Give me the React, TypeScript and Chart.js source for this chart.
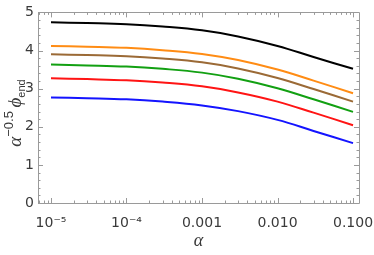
import React, { useEffect, useRef } from "react";
import { Chart, registerables } from "chart.js";

Chart.register(...registerables);

const alphaValues = [1e-5, 3e-5, 1e-4, 3e-4, 1e-3, 3e-3, 1e-2, 3e-2, 1e-1];
const seriesBlack = [4.74, 4.72, 4.69, 4.63, 4.53, 4.37, 4.12, 3.83, 3.52];
const seriesOrange = [4.12, 4.10, 4.07, 4.01, 3.91, 3.75, 3.50, 3.21, 2.88];
const seriesBrown = [3.90, 3.88, 3.85, 3.79, 3.69, 3.53, 3.28, 2.99, 2.66];
const seriesGreen = [3.63, 3.61, 3.58, 3.52, 3.42, 3.26, 3.01, 2.72, 2.39];
const seriesRed = [3.27, 3.25, 3.22, 3.16, 3.06, 2.90, 2.66, 2.37, 2.04];
const seriesBlue = [2.77, 2.75, 2.72, 2.66, 2.56, 2.41, 2.18, 1.89, 1.57];

const xTickValues = [1e-5, 1e-4, 1e-3, 1e-2, 1e-1];
const xTickLabels = ["10\u207B\u2075", "10\u207B\u2074", "0.001", "0.010", "0.100"];
const yTickValues = [0, 1, 2, 3, 4, 5];
const yTickLabels = ["0", "1", "2", "3", "4", "5"];

const X_MIN = 6.73e-6;
const X_MAX = 0.12;
const Y_MIN = 0;
const Y_MAX = 5;

const series = [
  { data: seriesBlack, color: "#000000" },
  { data: seriesOrange, color: "#FF8C14" },
  { data: seriesBrown, color: "#9B6A36" },
  { data: seriesGreen, color: "#12A012" },
  { data: seriesRed, color: "#FF1414" },
  { data: seriesBlue, color: "#1414FF" },
];

const frameColor = "#9a9a9a";
const labelColor = "#3a3a3a";

const framePlugin = {
  id: "framePlugin",
  afterDatasetsDraw(chart: any) {
    const { ctx, chartArea } = chart;
    const xs = chart.scales.x;
    const ys = chart.scales.y;
    const { left, right, top, bottom } = chartArea;
    ctx.save();
    ctx.strokeStyle = frameColor;
    ctx.lineWidth = 1;
    ctx.beginPath();
    ctx.rect(Math.round(left) + 0.5, Math.round(top) + 0.5, Math.round(right - left), Math.round(bottom - top));
    ctx.stroke();

    const xMaj: number[] = [];
    const xMin: number[] = [];
    for (let e = -6; e <= -1; e++) {
      for (let k = 1; k <= 9; k++) {
        const v = k * Math.pow(10, e);
        if (v < X_MIN || v > X_MAX) continue;
        if (k === 1) xMaj.push(v);
        else xMin.push(v);
      }
    }
    ctx.beginPath();
    const drawX = (v: number, len: number) => {
      const px = Math.round(xs.getPixelForValue(v)) + 0.5;
      ctx.moveTo(px, bottom);
      ctx.lineTo(px, bottom - len);
      ctx.moveTo(px, top);
      ctx.lineTo(px, top + len);
    };
    xMaj.forEach((v) => drawX(v, 5));
    xMin.forEach((v) => drawX(v, 2.5));
    const drawY = (v: number, len: number) => {
      const py = Math.round(ys.getPixelForValue(v)) + 0.5;
      ctx.moveTo(left, py);
      ctx.lineTo(left + len, py);
      ctx.moveTo(right, py);
      ctx.lineTo(right - len, py);
    };
    for (let i = 0; i <= 25; i++) {
      const v = i * 0.2;
      drawY(v, i % 5 === 0 ? 5 : 2.5);
    }
    ctx.stroke();
    ctx.restore();

    // y-axis title with superscript and subscript
    const parts = [
      { t: "\u03B1", f: "italic 19px 'Liberation Serif'", dy: 0 },
      { t: "\u22120.5", f: "13px 'Liberation Sans'", dy: -8 },
      { t: " ", f: "13px 'Liberation Sans'", dy: 0 },
      { t: "\u03D5", f: "italic 19px 'Liberation Serif'", dy: 0 },
      { t: "end", f: "11px 'Liberation Sans'", dy: 4 },
    ];
    ctx.save();
    let total = 0;
    const widths = parts.map((p) => {
      ctx.font = p.f;
      const w = ctx.measureText(p.t).width;
      total += w;
      return w;
    });
    ctx.translate(21, 113);
    ctx.rotate(-Math.PI / 2);
    ctx.fillStyle = labelColor;
    ctx.textBaseline = "alphabetic";
    ctx.textAlign = "left";
    let cx = -total / 2;
    parts.forEach((p, i) => {
      ctx.font = p.f;
      ctx.fillText(p.t, cx, p.dy);
      cx += widths[i];
    });
    ctx.restore();
  },
};

export default function App() {
  const canvasRef = useRef<HTMLCanvasElement | null>(null);

  useEffect(() => {
    const canvas = canvasRef.current;
    if (!canvas) return;
    const chart = new Chart(canvas, {
      type: "line",
      data: {
        datasets: series.map((s) => ({
          data: alphaValues.map((a, i) => ({ x: a, y: s.data[i] })),
          borderColor: s.color,
          backgroundColor: s.color,
          borderWidth: 2,
          pointRadius: 0,
          fill: false,
          tension: 0.4,
        })),
      },
      options: {
        animation: false,
        responsive: false,
        maintainAspectRatio: false,
        devicePixelRatio: 1,
        layout: { padding: { left: 0, right: 15, top: 9, bottom: 0 } },
        plugins: { legend: { display: false }, tooltip: { enabled: false } },
        scales: {
          x: {
            type: "logarithmic",
            min: X_MIN,
            max: X_MAX,
            grid: { display: false, drawTicks: false },
            border: { display: false },
            afterBuildTicks: (scale: any) => {
              scale.ticks = xTickValues.map((v) => ({ value: v }));
            },
            afterFit: (scale: any) => {
              scale.height = 52;
              scale.paddingLeft = 0;
              scale.paddingRight = 0;
            },
            ticks: {
              autoSkip: false,
              maxRotation: 0,
              minRotation: 0,
              padding: 12,
              color: labelColor,
              font: { family: "'DejaVu Sans'", size: 14 },
              callback: (value: any) => {
                const idx = xTickValues.findIndex((v) => Math.abs(v - Number(value)) / v < 1e-6);
                return idx >= 0 ? xTickLabels[idx] : "";
              },
            },
            title: {
              display: true,
              text: "\u03B1",
              color: labelColor,
              font: { family: "'Liberation Serif'", size: 18, style: "italic" },
              padding: { top: 0, bottom: 3 },
            },
          },
          y: {
            type: "linear",
            min: Y_MIN,
            max: Y_MAX,
            grid: { display: false, drawTicks: false },
            border: { display: false },
            afterBuildTicks: (scale: any) => {
              scale.ticks = yTickValues.map((v) => ({ value: v }));
            },
            afterFit: (scale: any) => {
              scale.width = 38;
            },
            ticks: {
              padding: 4,
              color: labelColor,
              font: { family: "'DejaVu Sans'", size: 14 },
              callback: (value: any) => {
                const idx = yTickValues.indexOf(Number(value));
                return idx >= 0 ? yTickLabels[idx] : "";
              },
            },
          },
        },
      },
      plugins: [framePlugin],
    });
    return () => chart.destroy();
  }, []);

  return (
    <div style={{ position: "fixed", left: 0, top: 0, width: 374, height: 255, background: "#ffffff" }}>
      <canvas ref={canvasRef} width={374} height={255} style={{ width: 374, height: 255, display: "block" }} />
    </div>
  );
}
